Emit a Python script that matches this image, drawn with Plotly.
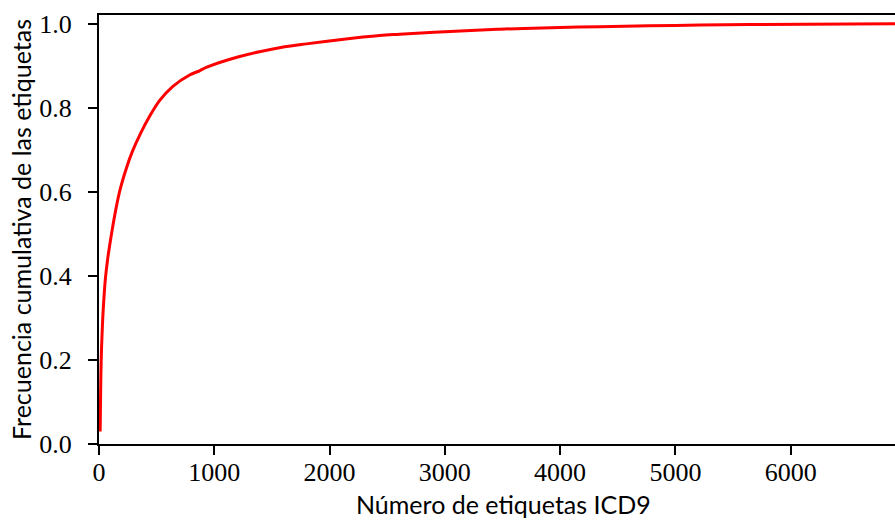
import plotly.graph_objects as go

# Cumulative label frequency
n_labels = [10, 14, 19, 30, 40, 56, 75, 91, 135, 178, 236, 288, 366, 438, 525, 641, 786,
            872, 930, 1220, 1509, 1799, 2088, 2435, 2609, 3000, 3477, 4000, 4345, 5000,
            5647, 6905]
cum_freq = [0.03, 0.12, 0.20, 0.285, 0.335, 0.395, 0.44, 0.47, 0.542, 0.60, 0.655, 0.695,
            0.742, 0.779, 0.817, 0.851, 0.878, 0.888, 0.896, 0.922, 0.940, 0.952, 0.962,
            0.972, 0.975, 0.981, 0.987, 0.991, 0.993, 0.996, 0.998, 1.0]

x_ticks = [0, 1000, 2000, 3000, 4000, 5000, 6000]
y_ticks = [0.0, 0.2, 0.4, 0.6, 0.8, 1.0]
y_tick_text = ["0.0", "0.2", "0.4", "0.6", "0.8", "1.0"]

x_title = "Número de etiquetas ICD9"
y_title = "Frecuencia cumulativa de las etiquetas"

W, H = 895, 521
L, R, T, B = 99, 0, 15, 77

fig = go.Figure()
fig.add_trace(go.Scatter(
    x=n_labels, y=cum_freq, mode="lines",
    line=dict(color="#ff0000", width=3, shape="spline", smoothing=1.0),
    hoverinfo="skip", showlegend=False,
))

tick_font = dict(family="Liberation Serif", size=26, color="black")
title_font = dict(family="Lato", size=25, color="black")

fig.update_layout(
    width=W, height=H,
    margin=dict(l=L, r=R, t=T, b=B, pad=0),
    paper_bgcolor="white", plot_bgcolor="white",
    showlegend=False,
    xaxis=dict(
        range=[0, 6905], tickvals=x_ticks, ticktext=[str(v) for v in x_ticks],
        ticks="outside", ticklen=9, tickwidth=2, tickcolor="black",
        showline=True, linewidth=2, linecolor="black", mirror=True,
        showgrid=False, zeroline=False, tickfont=tick_font,
        ticklabelstandoff=-5, automargin=False,
    ),
    yaxis=dict(
        range=[0, 1.0207], tickvals=y_ticks, ticktext=y_tick_text,
        ticks="outside", ticklen=9, tickwidth=2, tickcolor="black",
        showline=True, linewidth=2, linecolor="black", mirror=False,
        showgrid=False, zeroline=False, tickfont=tick_font,
        ticklabelstandoff=11, automargin=False,
    ),
    annotations=[
        dict(text=x_title, xref="paper", yref="paper",
             x=(503.5 - L) / (W - L - R), y=-(521 - 444) / (H - T - B),
             xanchor="center", yanchor="bottom", showarrow=False, font=title_font),
        dict(text=y_title, xref="paper", yref="paper", textangle=-90,
             x=(20.5 - L) / (W - L - R), y=0.5,
             xanchor="center", yanchor="middle", showarrow=False, font=title_font),
    ],
)

fig.write_html(
    "out.html",
    config={"displayModeBar": False},
    post_script="document.body.style.margin='0';document.body.style.padding='0';",
)
